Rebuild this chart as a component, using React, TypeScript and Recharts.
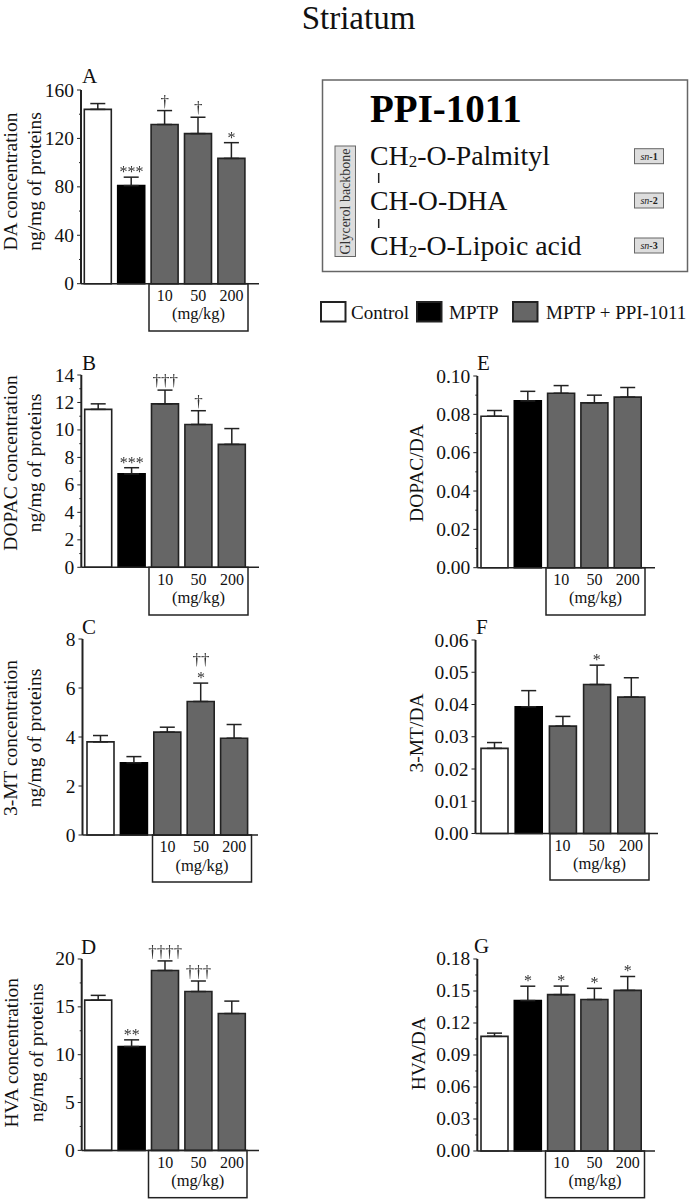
import React from 'react';
import { ComposedChart, Bar, Cell, ErrorBar, Line, XAxis, YAxis } from 'recharts';

const categories = ['Control', 'MPTP', '10', '50', '200'];
const barColors = ['#fff', '#000', '#666', '#666', '#666'];

const daValues = [144, 81, 131.5, 124, 103.5];
const daErrors = [4.8, 7, 11.5, 13.5, 13];
const daMarks = ['', '***', '†', '†', '*'];

const dopacValues = [11.5, 6.8, 11.9, 10.4, 8.95];
const dopacErrors = [0.4, 0.45, 1, 1, 1.15];
const dopacMarks = ['', '***', '†††', '†', ''];

const mtValues = [3.8, 2.95, 4.2, 5.45, 3.95];
const mtErrors = [0.26, 0.25, 0.2, 0.75, 0.56];
const mtMarks = ['', '', '', '††|*', ''];

const hvaValues = [15.7, 10.85, 18.8, 16.6, 14.3];
const hvaErrors = [0.5, 0.7, 1, 1.1, 1.3];
const hvaMarks = ['', '**', '††††', '†††', ''];

const dopacDaValues = [0.079, 0.087, 0.091, 0.086, 0.089];
const dopacDaErrors = [0.003, 0.005, 0.004, 0.004, 0.005];

const mtDaValues = [0.0264, 0.0393, 0.0333, 0.0462, 0.0423];
const mtDaErrors = [0.0018, 0.005, 0.003, 0.006, 0.006];
const mtDaMarks = ['', '', '', '*', ''];

const hvaDaValues = [0.1075, 0.141, 0.1466, 0.142, 0.1506];
const hvaDaErrors = [0.003, 0.0135, 0.008, 0.0105, 0.013];
const hvaDaMarks = ['', '*', '*', '*', '*'];

const noMarks = ['', '', '', '', ''];

const FONT = '"Liberation Serif", "Times New Roman", serif';
const INK = '#222';

const panels = [
  { letter: 'A', lx: 82, ly: 83, values: daValues, errors: daErrors, marks: daMarks, max: 160, major: 40, minor: 20, digits: 0,
    ox: 0, axisX: 81, axisEnd: 259, top: 90, bottom: 283.7, start: 81.3, band: 33.4, boxL: 149, boxR: 248, boxB: 331,
    titles: ['DA concentration', 'ng/mg of proteins'], titleY: 181.5, titleX: [17, 41] },
  { letter: 'B', lx: 82, ly: 370, values: dopacValues, errors: dopacErrors, marks: dopacMarks, max: 14, major: 2, minor: 1, digits: 0,
    ox: 0, axisX: 81.3, axisEnd: 259, top: 375, bottom: 567.3, start: 81.7, band: 33.4, boxL: 149, boxR: 248, boxB: 615,
    titles: ['DOPAC concentration', 'ng/mg of proteins'], titleY: 463, titleX: [17, 41] },
  { letter: 'C', lx: 82, ly: 634, values: mtValues, errors: mtErrors, marks: mtMarks, max: 8, major: 2, minor: 2, digits: 0,
    ox: 0, axisX: 82.5, axisEnd: 258, top: 639, bottom: 835, start: 84, band: 33.4, boxL: 152.5, boxR: 251.5, boxB: 882,
    titles: ['3-MT concentration', 'ng/mg of proteins'], titleY: 738, titleX: [17, 41] },
  { letter: 'D', lx: 81, ly: 954, values: hvaValues, errors: hvaErrors, marks: hvaMarks, max: 20, major: 5, minor: 2.5, digits: 0,
    ox: 0, axisX: 81.7, axisEnd: 259, top: 959.3, bottom: 1150.7, start: 81.7, band: 33.4, boxL: 148.5, boxR: 247, boxB: 1198,
    titles: ['HVA concentration', 'ng/mg of proteins'], titleY: 1053, titleX: [18, 43] },
  { letter: 'E', lx: 477, ly: 370, values: dopacDaValues, errors: dopacDaErrors, marks: noMarks, max: 0.1, major: 0.02, minor: 0.01, digits: 2,
    ox: 396, axisX: 477.3, axisEnd: 655, top: 376, bottom: 567.7, start: 478, band: 33.3, boxL: 546, boxR: 645, boxB: 615,
    titles: ['DOPAC/DA'], titleY: 473, titleX: [423] },
  { letter: 'F', lx: 476, ly: 634, values: mtDaValues, errors: mtDaErrors, marks: mtDaMarks, max: 0.06, major: 0.01, minor: 0.01, digits: 2,
    ox: 396, axisX: 475.5, axisEnd: 658, top: 640, bottom: 833.5, start: 477, band: 34.2, boxL: 550, boxR: 649, boxB: 880,
    titles: ['3-MT/DA'], titleY: 733, titleX: [423] },
  { letter: 'G', lx: 474, ly: 953, values: hvaDaValues, errors: hvaDaErrors, marks: hvaDaMarks, max: 0.18, major: 0.03, minor: 0.015, digits: 2,
    ox: 396, axisX: 477.3, axisEnd: 655, top: 959.3, bottom: 1151.3, start: 478, band: 33.3, boxL: 545.5, boxR: 644.5, boxB: 1198,
    titles: ['HVA/DA'], titleY: 1054, titleX: [425] },
];

type PanelProps = (typeof panels)[number];

const Panel = ({ p }: { p: PanelProps }) => {
  const w = 300;
  const oy = p.top - 30;
  const h = p.boxB + 4 - oy;
  const ax = 40;
  const xh = 30;
  const data = categories.map((name, i) => ({
    name,
    value: p.values[i],
    err: [0, p.errors[i]],
    tip: p.values[i] + p.errors[i],
    mark: p.marks[i],
  }));
  const count = Math.round(p.max / p.minor);
  const ticks = Array.from({ length: count + 1 }, (_, i) => Number((i * p.minor).toFixed(4)));
  const isMajor = (v: number) => Math.abs(v / p.major - Math.round(v / p.major)) < 1e-6;

  const yTick = ({ y, payload }: any) => {
    const major = isMajor(payload.value);
    const x0 = p.axisX - p.ox;
    return (
      <g>
        <line x1={x0 - (major ? 4 : 2)} x2={x0} y1={y} y2={y} stroke={INK} strokeWidth={1} />
        {major && (
          <text x={x0 - 7} y={y + 6.5} textAnchor="end" fontSize={19.5} fontFamily={FONT} fill="#111">
            {payload.value.toFixed(p.digits)}
          </text>
        )}
      </g>
    );
  };

  // significance marks sit on top of the error caps, stacked lines split by |
  // grayscale keeps the thin dagger stems from picking up colour fringes
  const markDot = ({ cx, cy, index, payload }: any) => {
    if (!payload.mark) return <g key={index} />;
    const lines: string[] = payload.mark.split('|');
    return (
      <g key={index} style={{ filter: 'grayscale(1)' }}>
        {lines.map((line, i) => {
          const fromBottom = lines.length - 1 - i;
          const dagger = line.includes('†');
          const base = cy - (dagger ? 4 : 0) - fromBottom * 14;
          return (
            <text key={i} x={cx} y={base} textAnchor="middle" fontSize={dagger ? 17 : 16} fontFamily={FONT} fill="#333">
              {line}
            </text>
          );
        })}
      </g>
    );
  };

  return (
    <div style={{ position: 'absolute', left: p.ox, top: oy, width: w, height: h }}>
      <ComposedChart
        width={w}
        height={h}
        data={data}
        barSize={27}
        margin={{
          top: 30,
          left: p.axisX - p.ox - ax,
          right: w - (p.axisEnd - p.ox),
          bottom: h - (p.bottom - oy) - xh,
        }}
      >
        <rect
          x={p.boxL - p.ox}
          y={p.bottom - oy}
          width={p.boxR - p.boxL}
          height={p.boxB - p.bottom}
          fill="#fff"
          stroke={INK}
          strokeWidth={1.5}
        />
        <XAxis
          dataKey="name"
          height={xh}
          interval={0}
          padding={{ left: p.start - p.axisX, right: p.axisEnd - p.start - 5 * p.band }}
          tickLine={false}
          tickSize={4}
          tickMargin={2}
          axisLine={{ stroke: INK, strokeWidth: 1.5 }}
          tick={{ fontSize: 16, fontFamily: FONT, fill: '#111' }}
          tickFormatter={(v: string, i: number) => (i < 2 ? '' : v)}
        />
        <YAxis
          width={ax}
          domain={[0, p.max]}
          ticks={ticks}
          interval={0}
          tickLine={false}
          axisLine={{ stroke: INK, strokeWidth: 2 }}
          tick={yTick}
        />
        <Bar dataKey="value" stroke={INK} strokeWidth={1.6} isAnimationActive={false}>
          {data.map((d, i) => (
            <Cell key={d.name} fill={barColors[i]} stroke={i === 1 ? '#000' : INK} />
          ))}
          <ErrorBar dataKey="err" direction="y" width={7.5} stroke={INK} strokeWidth={1.5} isAnimationActive={false} />
        </Bar>
        <Line dataKey="tip" stroke="none" isAnimationActive={false} dot={markDot} activeDot={false} />
        <text
          x={(p.boxL + p.boxR) / 2 - p.ox}
          y={p.bottom - oy + 35.5}
          textAnchor="middle"
          fontSize={16.5}
          fontFamily={FONT}
          fill="#111"
        >
          (mg/kg)
        </text>
        <text x={p.lx - p.ox} y={p.ly - oy} fontSize={21} fontFamily={FONT} fill="#111">
          {p.letter}
        </text>
      </ComposedChart>
      <svg width={w} height={h} style={{ position: 'absolute', left: 0, top: 0, pointerEvents: 'none', overflow: 'visible' }}>
        {p.titles.map((t, i) => (
          <text
            key={t}
            transform={`translate(${p.titleX[i] - p.ox} ${p.titleY - oy}) rotate(-90)`}
            textAnchor="middle"
            fontSize={19.5}
            fontFamily={FONT}
            fill="#111"
          >
            {t}
          </text>
        ))}
      </svg>
    </div>
  );
};

const snRows = [
  { label: '1', y: 148.7 },
  { label: '2', y: 193 },
  { label: '3', y: 238 },
];

const legendItems = [
  { text: 'Control', swatch: 321, tx: 351, fill: '#fff' },
  { text: 'MPTP', swatch: 417, tx: 449, fill: '#000' },
  { text: 'MPTP + PPI-1011', swatch: 513, tx: 546, fill: '#666' },
];

const Sub2 = () => <tspan fontSize={17} dy={2}>2</tspan>;

const Header = () => (
  <svg width={696} height={1200} style={{ position: 'absolute', left: 0, top: 0 }} fontFamily={FONT}>
    <text x={358.5} y={29} textAnchor="middle" fontSize={33} fill="#111">Striatum</text>

    <rect x={322.5} y={80} width={365} height={191.5} fill="#fff" stroke="#666" strokeWidth={1.5} />
    <text x={370} y={121.5} fontSize={39} fontWeight="bold" fill="#000">PPI-1011</text>
    <text x={370} y={165} fontSize={27.8} fill="#111">CH<Sub2 /><tspan dy={-2}>-O-Palmityl</tspan></text>
    <text x={370} y={210} fontSize={27.8} fill="#111">CH-O-DHA</text>
    <text x={370} y={255} fontSize={27.8} fill="#111">CH<Sub2 /><tspan dy={-2}>-O-Lipoic acid</tspan></text>
    <line x1={378.7} x2={378.7} y1={173} y2={183} stroke="#222" strokeWidth={1.5} />
    <line x1={378.7} x2={378.7} y1={219} y2={228} stroke="#222" strokeWidth={1.5} />

    <rect x={335} y={146} width={20.5} height={110.5} fill="#ddd" stroke="#666" strokeWidth={1} />
    <text transform="translate(349.5 201.5) rotate(-90)" textAnchor="middle" fontSize={14} fill="#333">Glycerol backbone</text>

    {snRows.map((r) => (
      <g key={r.label}>
        <rect x={634.5} y={r.y} width={29} height={15} fill="#ddd" stroke="#666" strokeWidth={1} />
        <text x={649} y={r.y + 11} textAnchor="middle" fontSize={10} fill="#222">
          <tspan fontStyle="italic">sn</tspan><tspan fontWeight="bold">-{r.label}</tspan>
        </text>
      </g>
    ))}

    {legendItems.map((l) => (
      <g key={l.text}>
        <rect x={l.swatch} y={302} width={24.5} height={19.5} fill={l.fill} stroke="#222" strokeWidth={2} />
        <text x={l.tx} y={318.5} fontSize={19} fill="#111">{l.text}</text>
      </g>
    ))}
  </svg>
);

export default function App() {
  return (
    <div style={{ position: 'absolute', left: 0, top: 0, width: 696, height: 1200, background: '#fff' }}>
      <Header />
      {panels.map((p) => (
        <Panel key={p.letter} p={p} />
      ))}
    </div>
  );
}
